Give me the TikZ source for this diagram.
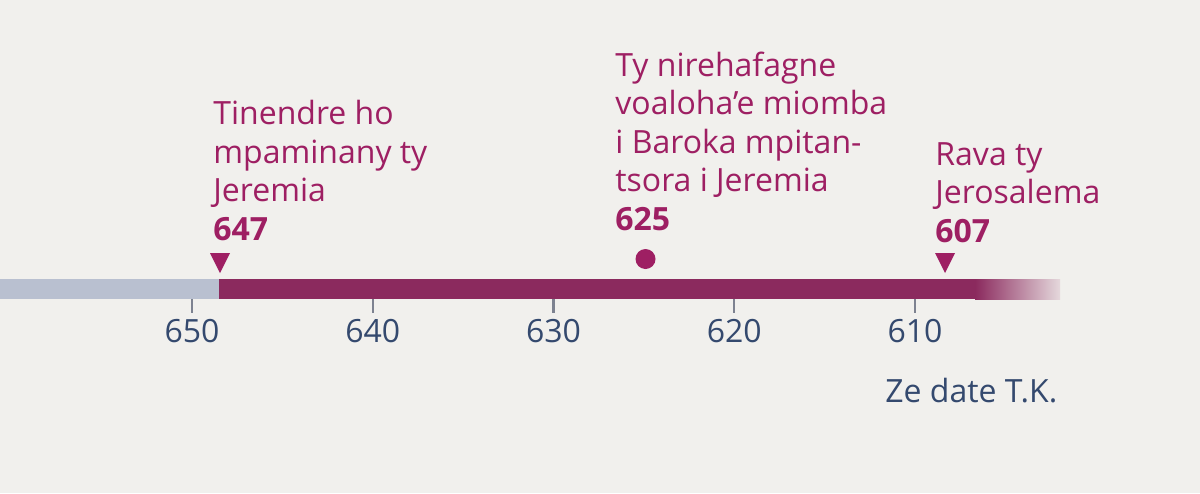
\documentclass[tikz,border=0pt]{standalone}
\usepackage{fontspec}
\setmainfont{Open Sans}
\usetikzlibrary{positioning}

\definecolor{paper}{HTML}{F1F0ED}
\definecolor{plum}{HTML}{8B2A5E}
\definecolor{evmag}{HTML}{9E1F63}
\definecolor{greybar}{HTML}{B9C0D0}
\definecolor{axisblue}{HTML}{34496E}
\definecolor{tickgrey}{HTML}{7D8290}

\tikzset{
  evtext/.style={evmag, align=left, anchor=base west, inner sep=0pt},
  yearlbl/.style={axisblue, anchor=base, inner sep=0pt},
}

\begin{document}
\begin{tikzpicture}[x=0.5pt, y=-0.5pt, every node/.style={font=\fontsize{16}{19.25}\selectfont}]
	\fill[paper] (0,0) rectangle (1200,493);
	\useasboundingbox (0,0) rectangle (1200,493);
	% the bar
	\fill[greybar] (0,279) rectangle (219,299);
	\fill[plum] (219,279) rectangle (976,299);
	\shade[left color=plum, right color=plum!12!paper] (975,279) rectangle (1060,299);
	% years
	\foreach \yr [count=\i from 0] in {650,640,630,620,610} {
		\draw[tickgrey, line width=1.2pt] (192+180.75*\i,299) -- (192+180.75*\i,313);
		\node[yearlbl] (tick\yr) at (192+180.75*\i,342) {\yr};
	}
	\node[yearlbl, anchor=base west] (era) at (885,402) {Ze date T.K.};
	% events
	\fill[evmag] (210,253) -- (230,253) -- (220,273) -- cycle;
	\node[evtext] (ev647) at (213,240) {Tinendre ho\\mpaminany ty\\Jeremia\\\textbf{647}};
	\fill[evmag] (645.5,259) circle (10);
	\node[evtext] (ev625) at (615,230) {Ty nirehafagne\\voaloha’e miomba\\i Baroka mpitan-\\tsora i Jeremia\\\textbf{625}};
	\fill[evmag] (935,253) -- (955,253) -- (945,273) -- cycle;
	\node[evtext] (ev607) at (935,242) {Rava ty\\Jerosalema\\\textbf{607}};
\end{tikzpicture}
\end{document}
